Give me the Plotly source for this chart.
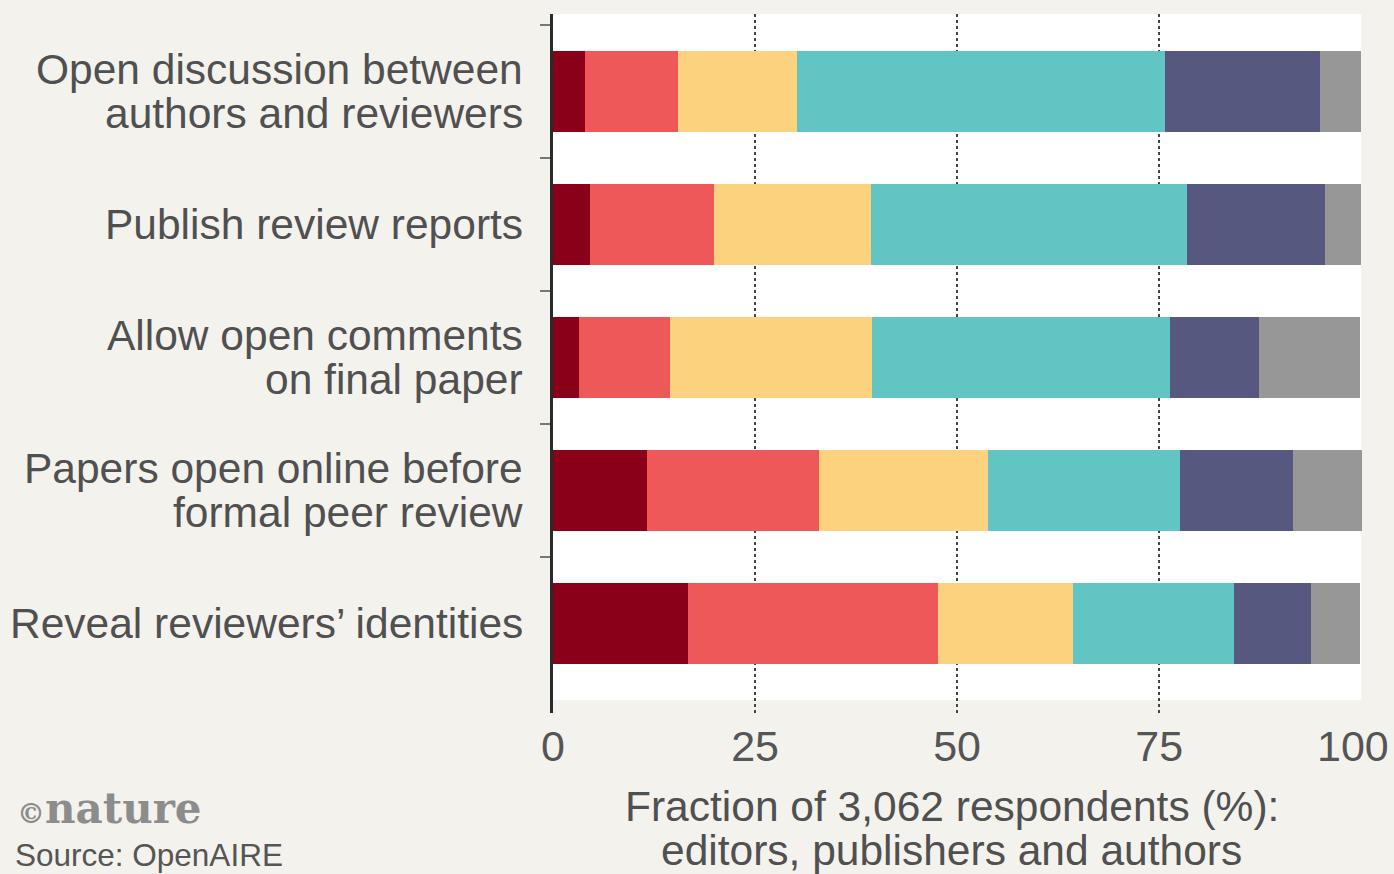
import plotly.graph_objects as go

categories = [
    "Open discussion between authors and reviewers",
    "Publish review reports",
    "Allow open comments on final paper",
    "Papers open online before formal peer review",
    "Reveal reviewers' identities",
]
label_lines = [
    ["Open discussion between", "authors and reviewers"],
    ["Publish review reports"],
    ["Allow open comments", "on final paper"],
    ["Papers open online before", "formal peer review"],
    ["Reveal reviewers\u2019 identities"],
]
series_names = ["Strongly oppose", "Oppose", "Neutral", "Support", "Strongly support", "No opinion"]
series_values = [
    [4.0, 4.6, 3.2, 11.6, 16.7],
    [11.5, 15.3, 11.3, 21.3, 30.9],
    [14.7, 19.4, 25.0, 20.9, 16.7],
    [45.5, 39.2, 36.8, 23.8, 20.0],
    [19.2, 17.0, 11.1, 14.0, 9.5],
    [5.1, 4.5, 12.5, 8.5, 6.1],
]
colors = ["#8a0018", "#ef5858", "#fdd27e", "#61c6c3", "#575880", "#979797"]
x_ticks = [0, 25, 50, 75, 100]

BG = "#f4f2ed"
TXT = "#505050"
FONT = "Liberation Sans, Arial, sans-serif"

fig = go.Figure()
for name, vals, col in zip(series_names, series_values, colors):
    fig.add_trace(go.Bar(
        y=categories, x=vals, name=name, orientation="h",
        marker=dict(color=col, line=dict(width=0)), width=0.61,
        hoverinfo="x+name",
    ))

annotations = []
for cat, lines in zip(categories, label_lines):
    n = len(lines)
    for i, ln in enumerate(lines):
        shift = 0 if n == 1 else (22 if i == 0 else -22)
        annotations.append(dict(
            text=ln, x=-0.0346, xref="paper", y=cat, yref="y",
            xanchor="right", yanchor="middle", yshift=shift, showarrow=False,
            font=dict(family=FONT, size=42.5, color=TXT),
        ))

# last tick label sits slightly inward so it stays on the page
annotations.append(dict(
    text=str(x_ticks[-1]), x=x_ticks[-1], xref="x", y=0, yref="paper",
    xanchor="center", yanchor="middle", yshift=-33, xshift=-8, showarrow=False,
    font=dict(family=FONT, size=43, color="#555555"),
))

annotations += [
    dict(text="Fraction of 3,062 respondents (%):", x=0.5, xref="paper", y=0, yref="paper",
         xanchor="center", yanchor="middle", yshift=-93, xshift=-6, showarrow=False,
         font=dict(family=FONT, size=42.5, color=TXT)),
    dict(text="editors, publishers and authors", x=0.5, xref="paper", y=0, yref="paper",
         xanchor="center", yanchor="middle", yshift=-137, xshift=-6, showarrow=False,
         font=dict(family=FONT, size=42.5, color=TXT)),
    dict(text="<span style='font-size:28px'>\u00a9</span>nature", x=-0.665, xref="paper", y=0, yref="paper",
         xanchor="left", yanchor="middle", yshift=-95, showarrow=False,
         font=dict(family="DejaVu Serif, serif", size=42, color="#8c8c8c", weight="bold")),
    dict(text="Source: OpenAIRE", x=-0.667, xref="paper", y=0, yref="paper",
         xanchor="left", yanchor="middle", yshift=-142, showarrow=False,
         font=dict(family=FONT, size=31.5, color="#555555")),
]

fig.update_layout(
    width=1394, height=874,
    margin=dict(l=553, r=32, t=14, b=161, autoexpand=False),
    paper_bgcolor=BG, plot_bgcolor=BG,
    barmode="stack", bargap=0.39, showlegend=False,
    annotations=annotations,
    shapes=[dict(type="rect", xref="x", x0=0, x1=100, yref="y domain", y0=0.0186, y1=1,
                 fillcolor="white", line=dict(width=0), layer="below")],
)
fig.update_xaxes(
    range=[0, 100.1], tickvals=x_ticks,
    ticktext=[str(v) for v in x_ticks[:-1]] + [""],
    showgrid=True, gridcolor="#444444", griddash="dot", gridwidth=1.5,
    zeroline=False, showline=False, ticks="", automargin=False,
    tickfont=dict(family=FONT, size=43, color="#555555"), ticklabelstandoff=4,
    ticklabeloverflow="allow",
)
fig.update_yaxes(
    type="category", categoryorder="array", categoryarray=categories,
    range=[4.673, -0.583], showticklabels=False, automargin=False,
    showline=True, linecolor="#2a2a2a", linewidth=3,
    ticks="outside", tickson="boundaries", ticklen=10, tickcolor="#777777", tickwidth=1.5,
    showgrid=False, zeroline=False,
)

fig.write_html(
    "out.html",
    config={"displayModeBar": False},
    post_script="document.body.style.margin='0';document.body.style.overflow='hidden';document.body.style.background='%s';" % BG,
)
